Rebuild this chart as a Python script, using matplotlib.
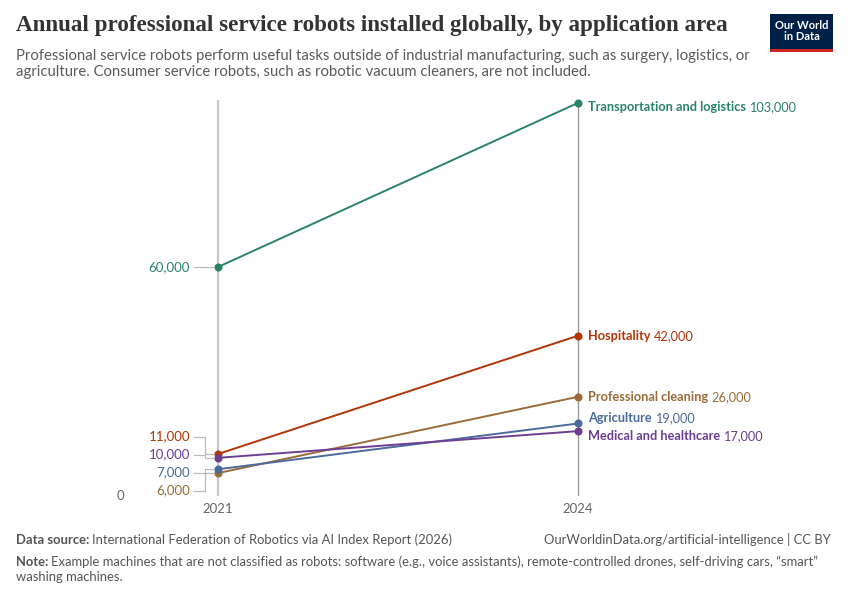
import matplotlib

matplotlib.use("Agg")
import matplotlib.pyplot as plt  # noqa: E402

# data
years = [2021, 2024]
areas = [
    "Transportation and logistics",
    "Hospitality",
    "Professional cleaning",
    "Agriculture",
    "Medical and healthcare",
]
values_2021 = [60000, 11000, 6000, 7000, 10000]
values_2024 = [103000, 42000, 26000, 19000, 17000]
colors = ["#2A8465", "#B13507", "#9A6B38", "#4C6A9C", "#6D3E91"]

TITLE = "Annual professional service robots installed globally, by application area"
SUBTITLE = ("Professional service robots perform useful tasks outside of industrial manufacturing, such as surgery, logistics, or\n"
            "agriculture. Consumer service robots, such as robotic vacuum cleaners, are not included.")
SOURCE = "International Federation of Robotics via AI Index Report (2026)"
NOTE = ("Example machines that are not classified as robots: software (e.g., voice assistants), remote-controlled drones, self-driving cars, \u201csmart\u201d\n"
        "washing machines.")
URL = "OurWorldinData.org/artificial-intelligence | CC BY"

plt.rcParams["font.family"] = ["Lato", "DejaVu Sans"]

W, H = 850, 600
fig = plt.figure(figsize=(W / 100, H / 100), dpi=100)

# axes placed in pixel terms
left_px, right_px, top_px, bottom_px = 130, 668, 100, 496
ax = fig.add_axes([left_px / W, 1 - bottom_px / H, (right_px - left_px) / W, (bottom_px - top_px) / H])
x_per_px = 3 / (578 - 218)
ax.set_xlim(2021 - (218 - left_px) * x_per_px, 2024 + (right_px - 578) * x_per_px)
y_per_px = 60000 / (496 - 267)
ymax = (bottom_px - top_px) * y_per_px
ax.set_ylim(0, ymax)
ax.axis("off")

# zero gridline and year lines
ax.axhline(0, color="#d0d0d0", lw=0.9, ls=(0, (3, 3)), zorder=0)
ax.vlines([years[0]], 0, ymax, color="#c8c8c8", lw=1.6, zorder=1)
ax.vlines([years[1]], 0, ymax, color="#9a9a9a", lw=1.0, zorder=1)
ax.text(2021 - (218 - left_px + 6) * x_per_px, 0, "0", ha="right", va="center",
        fontsize=9.5, color="#666666")

for name, v0, v1, c in zip(areas, values_2021, values_2024, colors):
    ax.plot(years, [v0, v1], color=c, lw=1.4, marker="o", ms=4.8, clip_on=False, zorder=3)


def spread(vals, gap):
    # stack labels that collide, centred on the mean of each cluster
    order = sorted(range(len(vals)), key=lambda i: vals[i])
    clusters = [[i] for i in order]

    def place(cls):
        pos = {}
        for cl in cls:
            m = sum(vals[i] for i in cl) / len(cl)
            n = len(cl)
            for k, i in enumerate(cl):
                pos[i] = m + gap * (k - (n - 1) / 2)
        return pos

    while True:
        pos = place(clusters)
        merged = False
        out = []
        for cl in clusters:
            if out and pos[cl[0]] - pos[out[-1][-1]] < gap - 1e-6:
                out[-1] = out[-1] + cl
                merged = True
            else:
                out.append(cl)
        clusters = out
        if not merged:
            break
    pos = place(clusters)
    return [pos[i] for i in range(len(vals))]


gap = 18 * y_per_px
left_pos = spread(values_2021, gap)
right_pos = spread(values_2024, gap)

fig.canvas.draw()
renderer = fig.canvas.get_renderer()

# left labels with elbow connectors
x_txt = 2021 - 28 * x_per_px
x_a = 2021 - 24 * x_per_px
x_b = 2021 - 13 * x_per_px
x_c = 2021 - 5 * x_per_px
for v, lp, c in zip(values_2021, left_pos, colors):
    ax.text(x_txt, lp, f"{v:,}", ha="right", va="center", fontsize=9.5, color=c)
    if abs(lp - v) < 1:
        ax.plot([x_a, x_c], [v, v], color="#bbbbbb", lw=0.9, clip_on=False)
    else:
        ax.plot([x_a, x_b, x_b, x_c], [lp, lp, v, v], color="#bbbbbb", lw=0.9, clip_on=False)

# right labels: bold name, regular value
x_r = 2024 + 10 * x_per_px
for name, v, rp, c in zip(areas, values_2024, right_pos, colors):
    if v == max(values_2024):
        rp = rp - 4 * y_per_px
    t = ax.text(x_r, rp, name, ha="left", va="center", fontsize=9.2, color=c, fontweight="bold")
    bb = t.get_window_extent(renderer=renderer)
    x_val = ax.transData.inverted().transform((bb.x1 + 3, 0))[0]
    ax.text(x_val, rp, f"{v:,}", ha="left", va="center", fontsize=9.2, color=c)

for yr in years:
    ax.text(yr, -13 * y_per_px, str(yr), ha="center", va="center", fontsize=9.5, color="#666666")

# header
fig.text(16 / W, 1 - 26 / H, TITLE, fontsize=16.6, fontweight="bold", color="#333333",
         family=["Liberation Serif", "DejaVu Serif"], va="center", ha="left")
fig.text(16 / W, 1 - 49 / H, SUBTITLE, fontsize=10.7, color="#5b5b5b", va="top", ha="left",
         linespacing=1.2)

# logo
logo = fig.add_axes([770 / W, 1 - 52 / H, 63 / W, 38 / H])
logo.set_xlim(0, 1)
logo.set_ylim(0, 1)
logo.axis("off")
logo.add_patch(plt.Rectangle((0, 0.08), 1, 0.92, color="#002147", lw=0))
logo.add_patch(plt.Rectangle((0, 0), 1, 0.08, color="#CE261E", lw=0))
logo.text(0.5, 0.55, "Our World\nin Data", ha="center", va="center", color="white",
          fontsize=8, fontweight="bold", linespacing=1.0)

# footer
foot = 9.4
t = fig.text(16 / W, 1 - 540 / H, "Data source:", fontsize=foot, fontweight="bold", color="#555555",
             va="center")
bb = t.get_window_extent(renderer=renderer)
fig.text((bb.x1 + 3) / W, 1 - 540 / H, SOURCE, fontsize=foot, color="#555555", va="center")
fig.text(831 / W, 1 - 540 / H, URL, fontsize=foot, color="#555555", va="center", ha="right")
t = fig.text(16 / W, 1 - 562 / H, "Note:", fontsize=foot, fontweight="bold", color="#555555",
             va="center")
bb = t.get_window_extent(renderer=renderer)
lines = NOTE.split("\n")
fig.text((bb.x1 + 3) / W, 1 - 562 / H, lines[0], fontsize=foot, color="#555555", va="center")
fig.text(16 / W, 1 - 577 / H, lines[1], fontsize=foot, color="#555555", va="center")

fig.savefig("out.png", dpi=100)
